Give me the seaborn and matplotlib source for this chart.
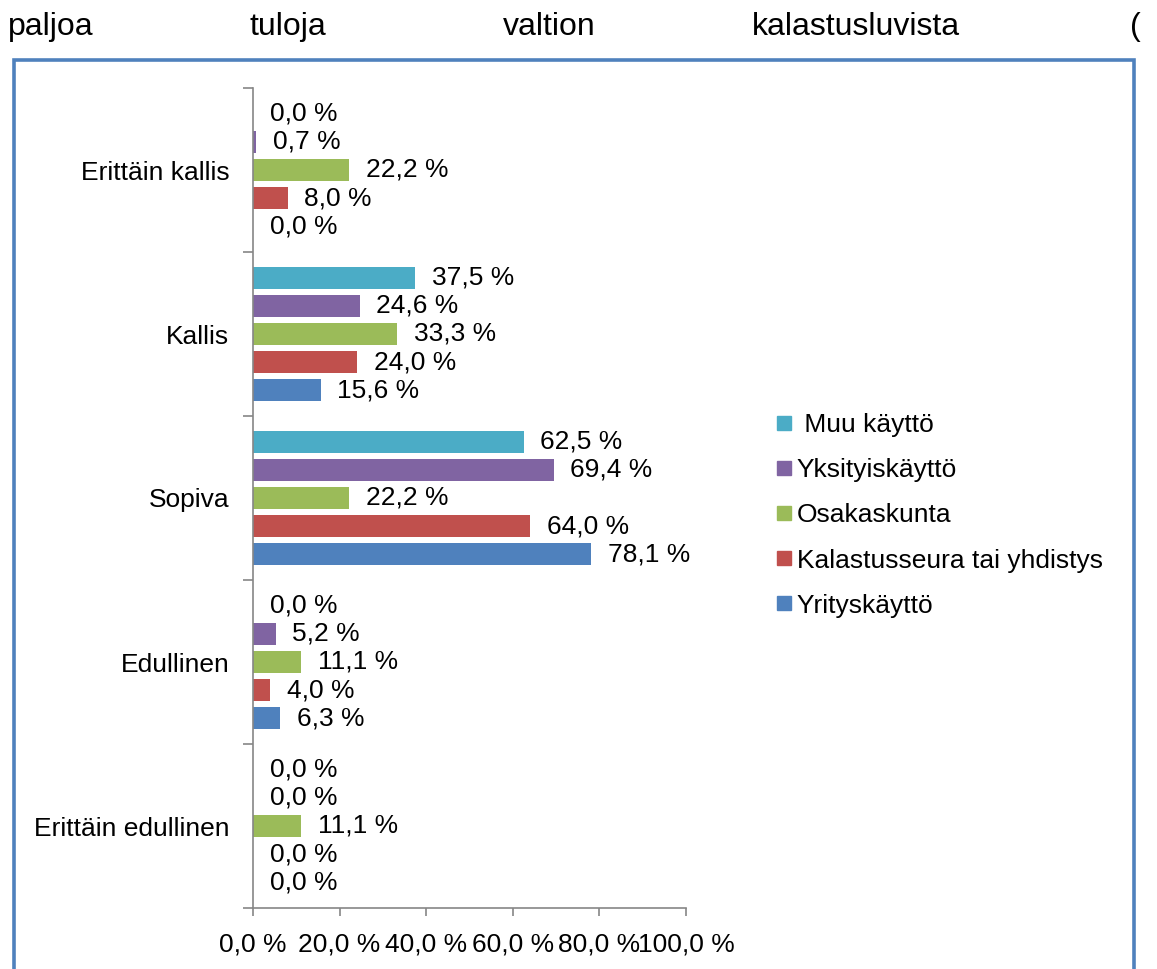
import pandas as pd
import matplotlib
matplotlib.use('Agg')
import matplotlib.pyplot as plt
from matplotlib.lines import Line2D
from matplotlib.patches import Rectangle
import seaborn as sns

categories = ['Erittäin kallis', 'Kallis', 'Sopiva', 'Edullinen', 'Erittäin edullinen']
series = ['Muu käyttö', 'Yksityiskäyttö', 'Osakaskunta', 'Kalastusseura tai yhdistys', 'Yrityskäyttö']
muu = [0.0, 37.5, 62.5, 0.0, 0.0]
yksityis = [0.7, 24.6, 69.4, 5.2, 0.0]
osakas = [22.2, 33.3, 22.2, 11.1, 11.1]
seura = [8.0, 24.0, 64.0, 4.0, 0.0]
yritys = [0.0, 15.6, 78.1, 6.3, 0.0]
colors = ['#4BACC6', '#8064A2', '#9BBB59', '#C0504D', '#4F81BD']
xticks = [0, 20, 40, 60, 80, 100]

rows = []
for name, vals in zip(series, [muu, yksityis, osakas, seura, yritys]):
    for cat, v in zip(categories, vals):
        rows.append({'Hinta': cat, 'Käyttö': name, 'Osuus': v})
df = pd.DataFrame(rows)

sns.set_style('white', {'text.color': 'black', 'axes.labelcolor': 'black',
                        'xtick.color': 'black', 'ytick.color': 'black'})
plt.rcParams['font.family'] = ['Liberation Sans', 'DejaVu Sans']
fs = 19

fig = plt.figure(figsize=(11.57, 9.69), dpi=100)
ax = fig.add_axes([253 / 1157, 1 - 908 / 969, 433 / 1157, 820 / 969])

sns.barplot(data=df, x='Osuus', y='Hinta', hue='Käyttö', order=categories,
            hue_order=series, palette=colors, orient='h', errorbar=None,
            width=0.86, gap=0.22, saturation=1, legend=False, linewidth=0, ax=ax)

def fmt(v):
    return f'{v:.1f} %'.replace('.', ',')

for cont, vals in zip(ax.containers, [muu, yksityis, osakas, seura, yritys]):
    ax.bar_label(cont, labels=[fmt(v) for v in vals], padding=12, fontsize=fs, color='black')

ax.set_xlim(0, 100)
ax.set_ylim(4.5, -0.5)
ax.set_xticks(xticks)
ax.set_xticklabels([fmt(t) for t in xticks], fontsize=fs)
ax.set_yticks(range(len(categories)))
ax.set_yticklabels(categories, fontsize=fs)
ax.set_yticks([i - 0.5 for i in range(len(categories) + 1)], minor=True)
ax.tick_params(axis='y', which='major', length=0, pad=17, labelcolor='black')
ax.tick_params(axis='y', which='minor', length=7, width=1.2, color='#868686', direction='out', left=True)
ax.tick_params(axis='x', length=6, width=1.2, color='#868686', direction='out', bottom=True,
               pad=11.5, labelcolor='black')
ax.set_xlabel('')
ax.set_ylabel('')
for s in ['top', 'right']:
    ax.spines[s].set_visible(False)
for s in ['left', 'bottom']:
    ax.spines[s].set_color('#868686')
    ax.spines[s].set_linewidth(1.2)

handles = [Line2D([], [], marker='s', linestyle='none', markersize=9.5,
                  markerfacecolor=c, markeredgecolor=c) for c in colors]
labels = [' ' + series[0]] + series[1:]
fig.legend(handles, labels, loc='center left', bbox_to_anchor=(762.5 / 1157, 1 - 515.5 / 969),
           frameon=False, fontsize=fs, borderpad=0, handlelength=0.6, handletextpad=0.2,
           labelspacing=0.8)

# tekstirivi kaavion yläpuolella (tasattu teksti)
for word, x in zip(['paljoa', 'tuloja', 'valtion', 'kalastusluvista', '('],
                   [8, 250, 503, 752, 1130]):
    fig.text(x / 1157, 1 - 27 / 969, word, fontsize=23, va='center', ha='left', color='black')

fig.patches.append(Rectangle((14 / 1157, -0.1), 1120 / 1157, 1.1 - 60 / 969,
                             transform=fig.transFigure, fill=False,
                             edgecolor='#4F81BD', linewidth=2.6, clip_on=False))

fig.savefig('out.png', dpi=100)
